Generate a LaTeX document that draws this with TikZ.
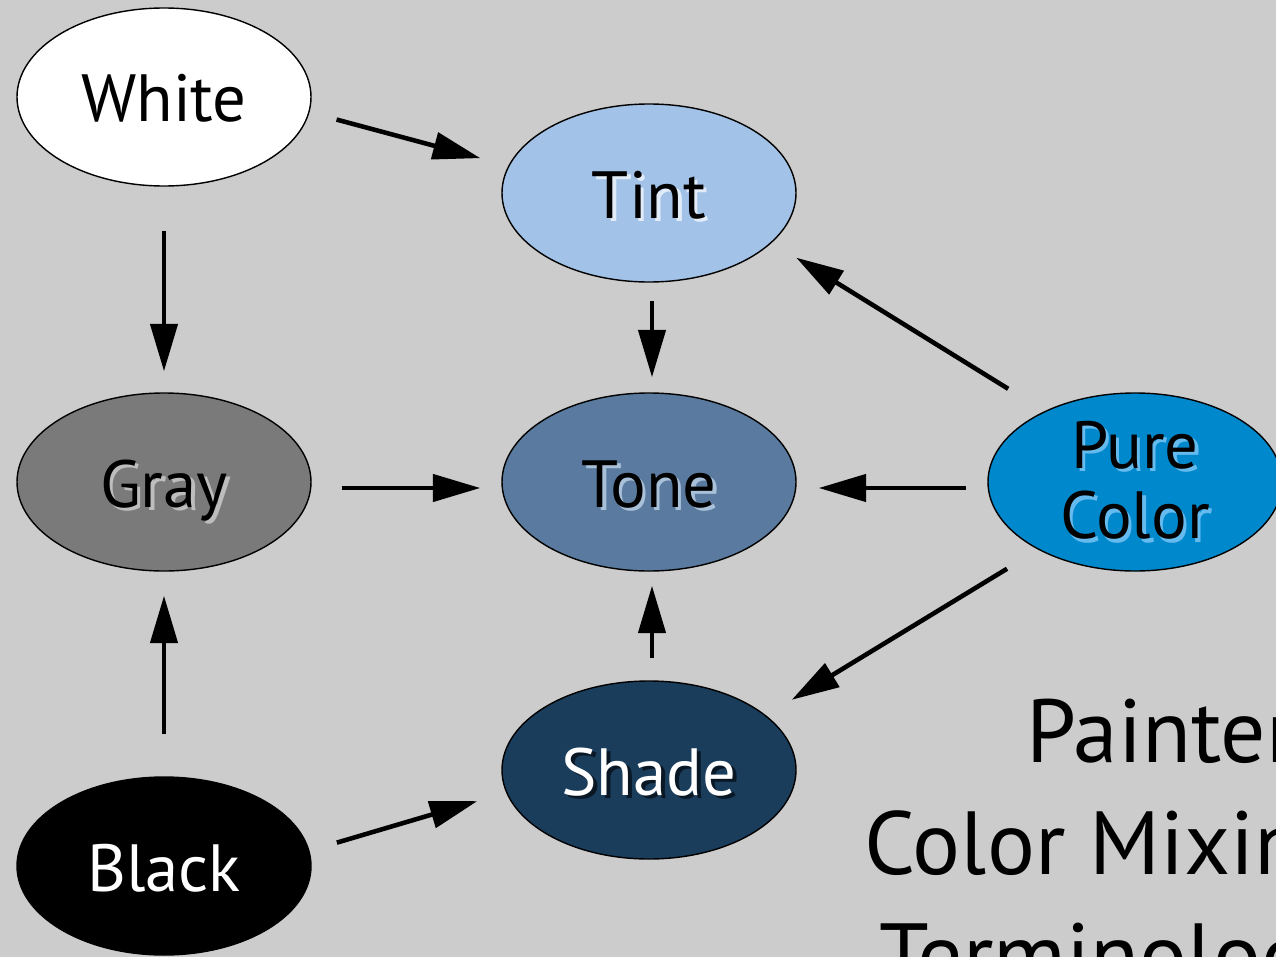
\documentclass[tikz,border=0pt]{standalone}
\usepackage{fontspec}
\setmainfont{PT Sans}
\usepackage{tikz}
\usetikzlibrary{shapes.geometric}
\usetikzlibrary{arrows.meta}

\definecolor{bgcol}{HTML}{CCCCCC}
\definecolor{tintcol}{HTML}{A2C2E8}
\definecolor{graycol}{HTML}{7A7A7A}
\definecolor{tonecol}{HTML}{5A7B9F}
\definecolor{purecol}{HTML}{0088CC}
\definecolor{shadecol}{HTML}{1B3D5C}
\definecolor{tintshd}{HTML}{E2ECF8}
\definecolor{grayshd}{HTML}{BDBDBD}
\definecolor{toneshd}{HTML}{A9C0D9}
\definecolor{pureshd}{HTML}{66BBEE}
\definecolor{shadeshd}{HTML}{0A1826}

% text with a small drop shadow behind it
\newcommand{\drop}[2]{\makebox[0pt][l]{\hspace{0.07cm}\raisebox{-0.07cm}{\textcolor{#1}{#2}}}#2}

\tikzset{
  blob/.style={ellipse, draw=black, line width=0.8pt, inner sep=0pt,
    minimum width=5.88cm, minimum height=3.56cm,
    font=\fontsize{38}{40}\selectfont, text height=1.0cm, text depth=0pt},
  arr/.style={-{Triangle[length=0.95cm,width=0.54cm]}, line width=2.6pt}
}

\begin{document}
\begin{tikzpicture}
\useasboundingbox (0,0) rectangle (25.52,-19.14);
\clip (0,0) rectangle (25.52,-19.14);
\fill[bgcol] (0,0) rectangle (25.52,-19.14);

\node[blob, fill=white] (WHITE) at (3.28,-1.94) {White};
\node[blob, fill=tintcol] (TINT) at (12.98,-3.86) {\drop{tintshd}{Tint}};
\node[blob, fill=graycol] (GRAY) at (3.28,-9.64) {\drop{grayshd}{Gray}};
\node[blob, fill=tonecol] (TONE) at (12.98,-9.64) {\drop{toneshd}{Tone}};
\node[blob, fill=purecol] (PURE) at (22.7,-9.64) {};
\node[align=center, inner sep=0pt, font=\fontsize{38}{40}\selectfont] (PURETXT) at (PURE)
  {\drop{pureshd}{Pure}\\\drop{pureshd}{Color}};
\node[blob, fill=shadecol, text=white] (SHADE) at (12.98,-15.4) {\drop{shadeshd}{Shade}};
\node[blob, fill=black, text=white] (BLACK) at (3.28,-17.32) {Black};

\node[align=right, anchor=north east, inner sep=0pt, font=\fontsize{51}{63.7}\selectfont]
  (TITLE) at (27.04,-13.98) {Painters'\\Color Mixing\\Terminology};

% arrows
\draw[arr, shorten <=0.56cm, shorten >=0.58cm] (WHITE.-6.6) -- (TINT.169.8);
\draw[arr, shorten <=0.88cm, shorten >=0.42cm] (WHITE.south) -- (GRAY.north);
\draw[arr, shorten <=0.36cm, shorten >=0.30cm] ([xshift=0.06cm]TINT.south) -- ([xshift=0.06cm]TONE.north);
\draw[arr, shorten <=0.85cm, shorten >=0.57cm] (PURE.142.9) -- (TINT.-22.3);
\draw[arr, shorten <=0.60cm, shorten >=0.42cm] ([yshift=-0.12cm]GRAY.east) -- ([yshift=-0.12cm]TONE.west);
\draw[arr, shorten <=0.42cm, shorten >=0.44cm] ([yshift=-0.12cm]PURE.west) -- ([yshift=-0.12cm]TONE.east);
\draw[arr, shorten <=0.73cm, shorten >=0.60cm] (PURE.-145.3) -- (SHADE.25.2);
\draw[arr, shorten <=0.44cm, shorten >=0.28cm] ([xshift=0.06cm]SHADE.north) -- ([xshift=0.06cm]TONE.south);
\draw[arr, shorten <=0.84cm, shorten >=0.48cm] (BLACK.north) -- (GRAY.south);
\draw[arr, shorten <=0.57cm, shorten >=0.60cm] (BLACK.6.7) -- (SHADE.-171.3);

\end{tikzpicture}
\end{document}
